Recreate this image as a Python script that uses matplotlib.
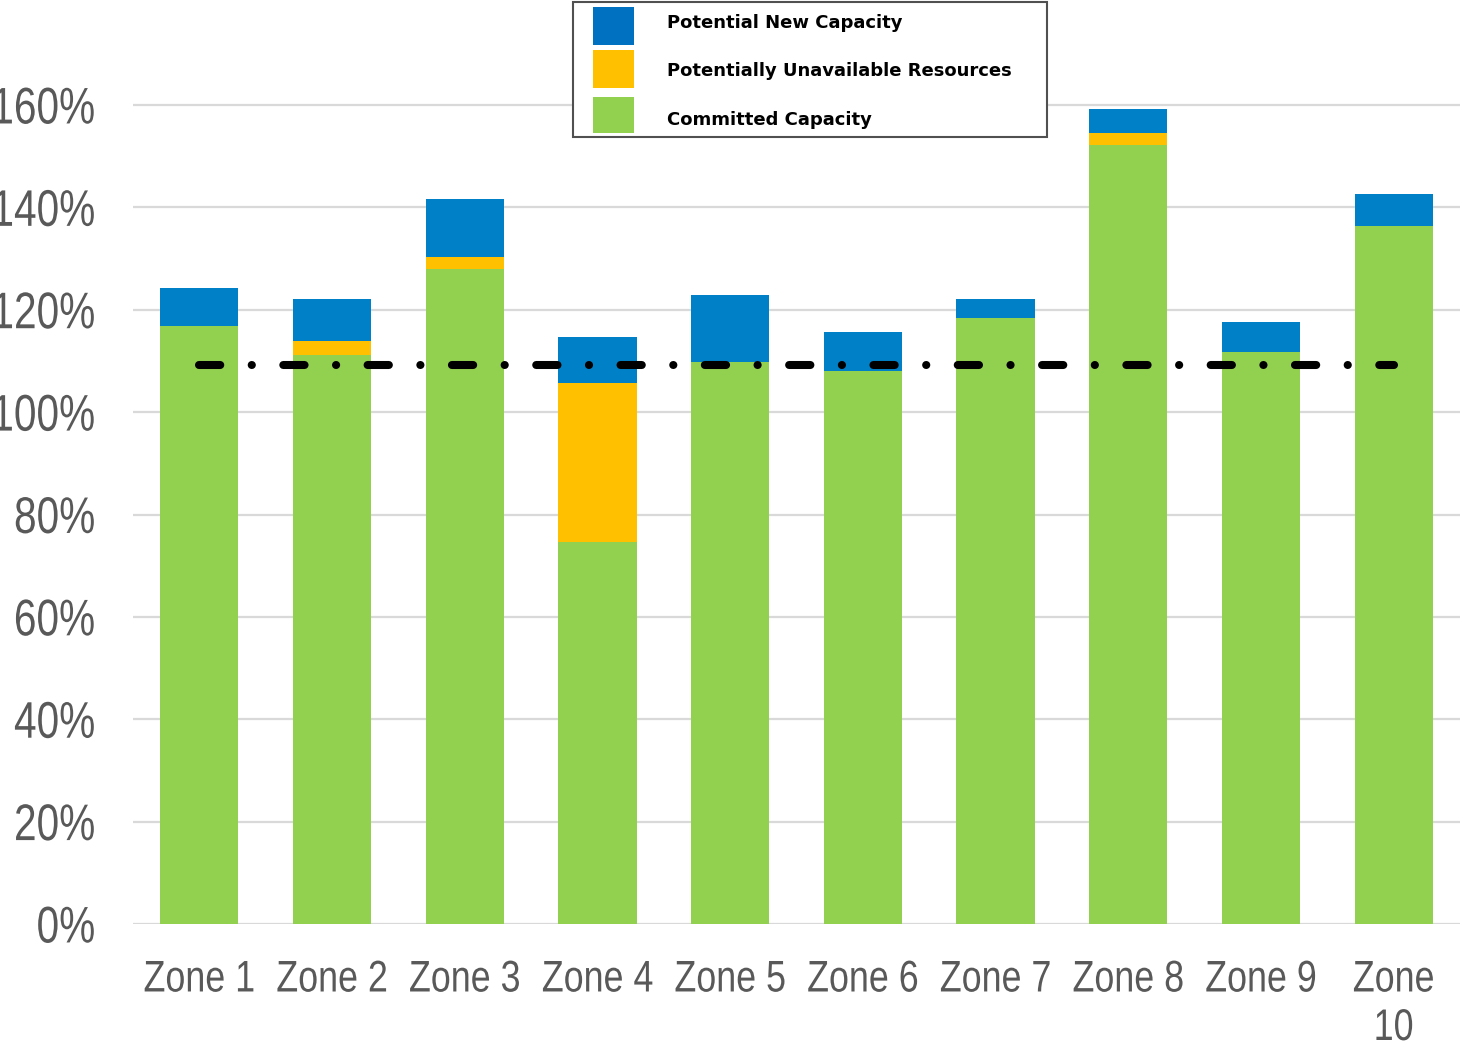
import matplotlib
matplotlib.use("Agg")
import matplotlib.pyplot as plt
from matplotlib.patches import Rectangle
from matplotlib.ticker import FuncFormatter
from matplotlib.patheffects import AbstractPathEffect
from matplotlib.transforms import Affine2D
import numpy as np

# ---- data (percent of requirement) ----
zones = ["Zone 1", "Zone 2", "Zone 3", "Zone 4", "Zone 5",
         "Zone 6", "Zone 7", "Zone 8", "Zone 9", "Zone\n10"]
committed = [116.9, 111.1, 128.0, 74.7, 109.8, 108.1, 118.4, 152.1, 111.7, 136.4]
unavailable = [0.0, 2.7, 2.4, 30.9, 0.0, 0.0, 0.0, 2.4, 0.0, 0.0]
new_capacity = [7.4, 8.3, 11.3, 9.1, 13.0, 7.5, 3.7, 4.7, 5.9, 6.2]
requirement = 109.3
yticks = [0, 20, 40, 60, 80, 100, 120, 140, 160]
legend_labels = ["Potential New Capacity", "Potentially Unavailable Resources",
                 "Committed Capacity"]

c_green = "#92D050"
c_yellow = "#FFC000"
c_blue = "#0080C6"
c_blue_leg = "#0070C0"

plt.rcParams["lines.scale_dashes"] = False
tick_family = ["Liberation Sans", "DejaVu Sans"]


class NarrowText(AbstractPathEffect):
    """Give text a narrow-font look: scale glyphs about an anchor."""

    def __init__(self, sx, sy=1.0, anchor="center"):
        super().__init__()
        self.sx = sx
        self.sy = sy
        self.anchor = anchor

    def draw_path(self, renderer, gc, tpath, affine, rgbFace=None):
        ext = tpath.get_extents(affine)
        if self.anchor == "right":
            cx = ext.x1
        elif self.anchor == "left":
            cx = ext.x0
        else:
            cx = 0.5 * (ext.x0 + ext.x1)
        cy = 0.5 * (ext.y0 + ext.y1)
        t = affine + Affine2D().translate(-cx, -cy).scale(self.sx, self.sy).translate(cx, cy)
        renderer.draw_path(gc, tpath, t, rgbFace)


W, H = 1460, 1046
fig = plt.figure(figsize=(W / 100, H / 100), dpi=100)

def fx(px):
    return px / W

def fy(py):
    return 1 - py / H

ymax = 162
ppu = (924 - 105) / 160.0
top_px = 924 - ymax * ppu
ax = fig.add_axes([fx(133), fy(924), 1 - fx(133), (924 - top_px) / H])

x = np.arange(len(zones))
bw = 0.59
committed_a = np.array(committed)
unavail_a = np.array(unavailable)
new_a = np.array(new_capacity)

ax.bar(x, committed_a, width=bw, color=c_green, zorder=2, linewidth=0)
ax.bar(x, unavail_a, width=bw, bottom=committed_a, color=c_yellow, zorder=2, linewidth=0)
ax.bar(x, new_a, width=bw, bottom=committed_a + unavail_a, color=c_blue, zorder=2, linewidth=0)

ax.plot([x[0], x[-1]], [requirement, requirement], color="black", linewidth=5.8,
        dashes=(15.3, 22.65, 0.1, 22.65), dash_capstyle="round", zorder=4)

ax.set_xlim(-0.5, len(zones) - 0.5)
ax.set_ylim(0, ymax)
ax.set_yticks(yticks)
ax.yaxis.set_major_formatter(FuncFormatter(lambda v, p: f"{v:.0f}%"))
ax.set_xticks(x)
ax.set_xticklabels(zones, linespacing=1.35)
ax.grid(axis="y", color="#d9d9d9", linewidth=1.6, zorder=0)
ax.set_axisbelow(True)
for s in ax.spines.values():
    s.set_visible(False)
ax.tick_params(axis="both", length=0, colors="#595959")
ax.tick_params(axis="y", pad=27)
ax.tick_params(axis="x", pad=26)
for lab in ax.get_yticklabels():
    lab.set_family(tick_family)
    lab.set_fontsize(34)
    lab.set_color("#595959")
    lab.set_path_effects([NarrowText(0.86, 1.09, "right")])
for lab in ax.get_xticklabels():
    lab.set_family(tick_family)
    lab.set_fontsize(29)
    lab.set_color("#595959")
    lab.set_path_effects([NarrowText(0.89, 1.1, "center")])

# ---- legend box ----
fig.add_artist(Rectangle((fx(573), fy(137)), fx(1047) - fx(573), (137 - 2) / H,
                         transform=fig.transFigure, facecolor="white",
                         edgecolor="#505050", linewidth=1.5, zorder=5))
sw_rows = [(7, 45, c_blue_leg), (50, 88, c_yellow), (97, 133, c_green)]
text_y = [21, 69, 118]
for (t, b, c), ty, lab in zip(sw_rows, text_y, legend_labels):
    fig.add_artist(Rectangle((fx(593), fy(b)), fx(634) - fx(593), (b - t) / H,
                             transform=fig.transFigure, facecolor=c,
                             edgecolor="none", zorder=6))
    fig.text(fx(667), fy(ty), lab, ha="left", va="center_baseline",
             fontsize=13, fontweight="bold", family=["DejaVu Sans"],
             color="black", zorder=7)

fig.savefig("out.png", dpi=100, facecolor="white")
